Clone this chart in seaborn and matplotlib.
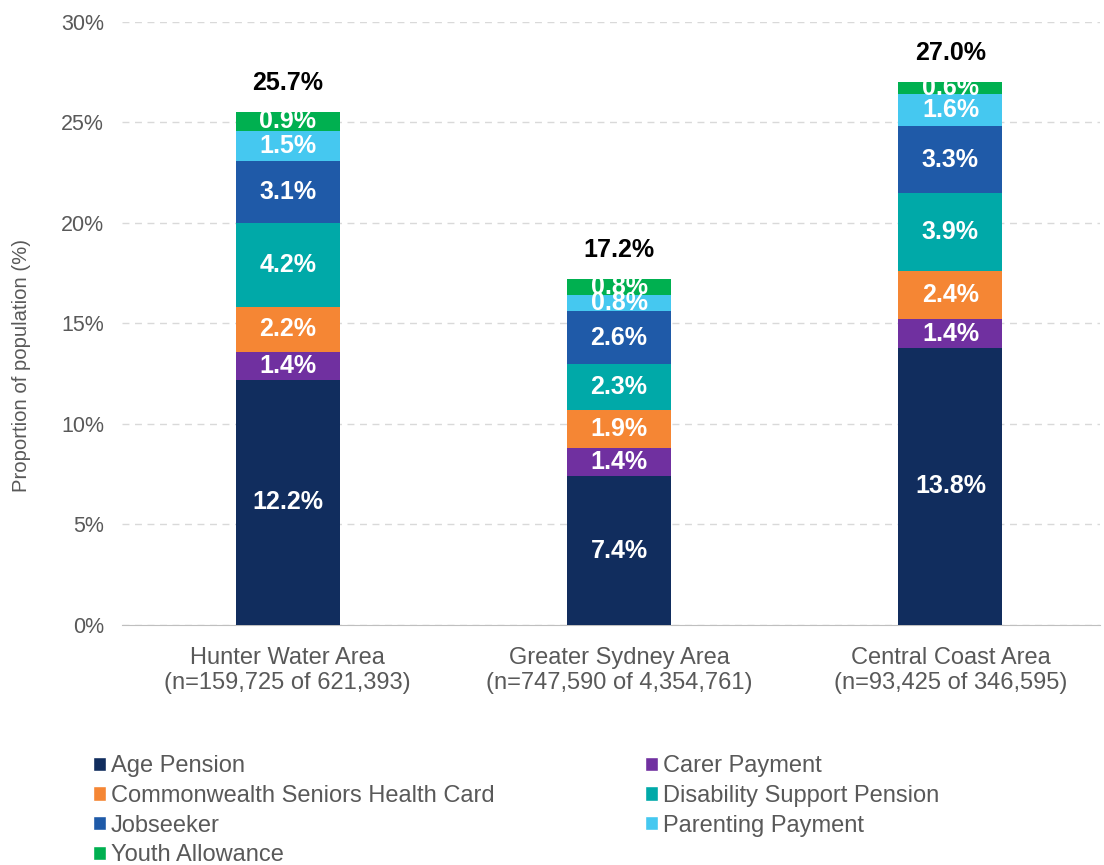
import matplotlib
matplotlib.use("Agg")
import matplotlib.pyplot as plt
import seaborn as sns
import numpy as np
from matplotlib.patches import Patch

# Data
areas = ["Hunter Water Area\n(n=159,725 of 621,393)",
         "Greater Sydney Area\n(n=747,590 of 4,354,761)",
         "Central Coast Area\n(n=93,425 of 346,595)"]
payments = ["Age Pension", "Carer Payment", "Commonwealth Seniors Health Card",
            "Disability Support Pension", "Jobseeker", "Parenting Payment",
            "Youth Allowance"]
age_pension = [12.2, 7.4, 13.8]
carer = [1.4, 1.4, 1.4]
cshc = [2.2, 1.9, 2.4]
dsp = [4.2, 2.3, 3.9]
jobseeker = [3.1, 2.6, 3.3]
parenting = [1.5, 0.8, 1.6]
youth = [0.9, 0.8, 0.6]
totals = [25.7, 17.2, 27.0]

colors = ["#112D5E", "#7030A0", "#F58634", "#00A9A8", "#1F5AA8", "#45C8F0", "#00B050"]
series = [age_pension, carer, cshc, dsp, jobseeker, parenting, youth]

sns.set_style("white")
plt.rcParams["font.family"] = ["Liberation Sans", "DejaVu Sans"]
grey = "#595959"

fig = plt.figure(figsize=(11.04, 8.65), dpi=100)
ax = fig.add_axes([0.1105, 0.2775, 0.8855, 0.6971])

bottoms = np.zeros(len(areas))
for name, vals, col in zip(payments, series, colors):
    sns.barplot(x=areas, y=vals, bottom=bottoms, color=col, width=0.314,
                saturation=1, linewidth=0, ax=ax, zorder=3)
    for i, v in enumerate(vals):
        ax.text(i, bottoms[i] + v / 2, f"{v:.1f}%", ha="center", va="center",
                color="white", fontsize=18, fontweight="bold", zorder=4)
    bottoms = bottoms + np.array(vals)

for i, t in enumerate(totals):
    ax.text(i, bottoms[i] + 0.85, f"{t:.1f}%", ha="center", va="bottom",
            color="black", fontsize=18, fontweight="bold")

ax.set_ylim(0, 30)
ax.set_xlim(-0.5, 2.45)
ax.set_yticks(range(0, 31, 5))
ax.set_yticklabels([f"{v}%" for v in range(0, 31, 5)])
ax.yaxis.grid(True, linestyle=(0, (5, 4)), color="#D9D9D9", linewidth=1)
ax.set_axisbelow(True)
for s in ["top", "right", "left"]:
    ax.spines[s].set_visible(False)
ax.spines["bottom"].set_color("#BFBFBF")
ax.tick_params(axis="both", length=0, colors=grey)
ax.tick_params(axis="x", labelsize=17, pad=16)
ax.tick_params(axis="y", labelsize=15.5, pad=13)
for lab in ax.get_xticklabels():
    lab.set_linespacing(1.15)
ax.set_ylabel("Proportion of population (%)", fontsize=14.6, color=grey)
ax.yaxis.set_label_coords(-0.093, 0.43)
ax.set_xlabel("")

# Legend: two columns, filled column-wise
order = [0, 2, 4, 6, 1, 3, 5]
handles = [Patch(facecolor=colors[k], label=payments[k]) for k in order]
fig.legend(handles=handles, ncol=2, loc="upper left", bbox_to_anchor=(0.076, 0.138),
           frameon=False, fontsize=17, labelcolor=grey, handlelength=0.55,
           handleheight=0.55, handletextpad=0.2, columnspacing=6.37,
           labelspacing=0.33, borderaxespad=0)

fig.savefig("out.png", dpi=100)
